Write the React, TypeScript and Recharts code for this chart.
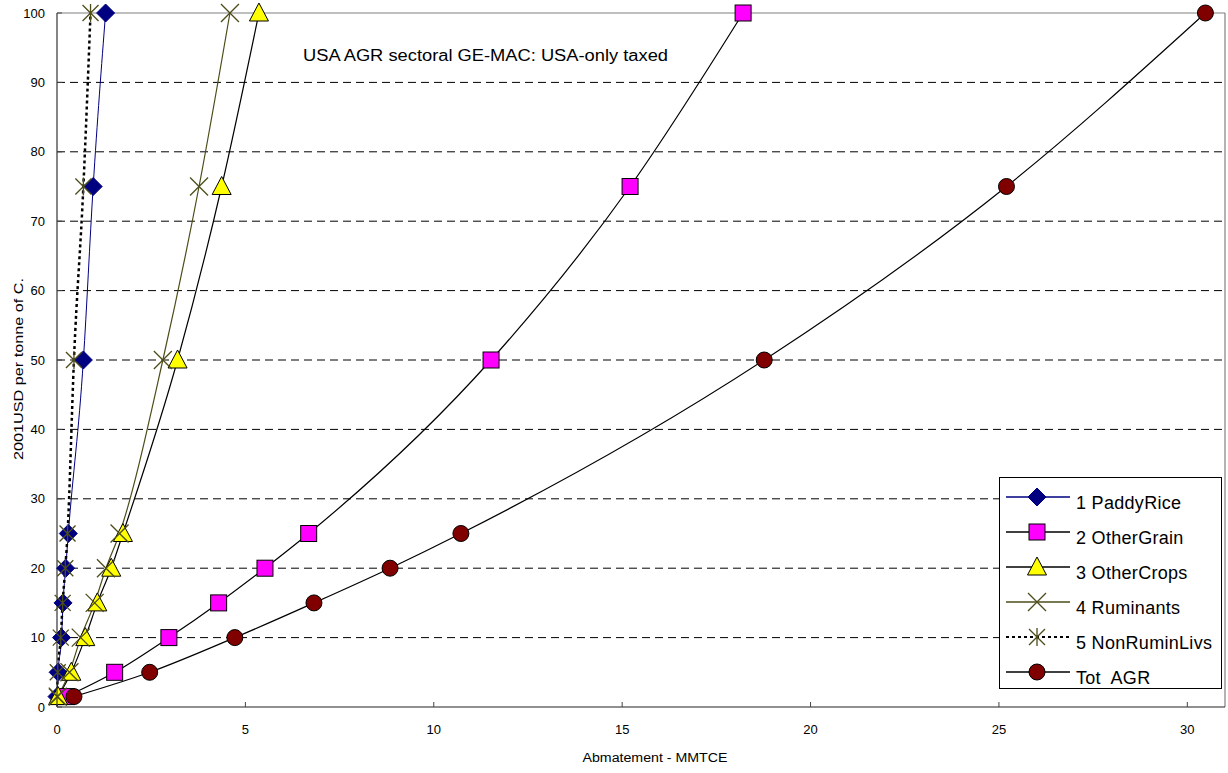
import React from "react";
import {
  LineChart,
  Line,
  XAxis,
  YAxis,
  CartesianGrid,
  ReferenceLine,
} from "recharts";

// carbon tax levels (USD / tC) used for every sector
const taxLevels = [1.5, 5, 10, 15, 20, 25, 50, 75, 100];

// abatement (MMTCE) at each tax level
const paddyRice = [0, 0.03, 0.12, 0.16, 0.23, 0.3, 0.7, 0.96, 1.29];
const otherGrain = [0.25, 1.53, 2.97, 4.29, 5.52, 6.68, 11.52, 15.21, 18.21];
const otherCrops = [0.03, 0.38, 0.75, 1.07, 1.44, 1.75, 3.2, 4.37, 5.36];
const ruminants = [0.02, 0.33, 0.63, 1.0, 1.3, 1.66, 2.81, 3.77, 4.59];
const nonRuminLivs = [0, 0.02, 0.1, 0.15, 0.22, 0.28, 0.45, 0.7, 0.89];
const totAgr = [0.45, 2.46, 4.72, 6.82, 8.84, 10.72, 18.77, 25.2, 30.48];

const xTicks = [0, 5, 10, 15, 20, 25, 30];
const yTicks = [0, 10, 20, 30, 40, 50, 60, 70, 80, 90, 100];
const gridValues = [10, 20, 30, 40, 50, 60, 70, 80, 90];

const FONT = "'Liberation Sans', Arial, sans-serif";
const OLIVE = "#4d4d1a";

type Marker = "diamond" | "square" | "triangle" | "x" | "star" | "circle";

type SeriesDef = {
  name: string;
  xs: number[];
  color: string;
  width: number;
  dash?: string;
  marker: Marker;
};

const series: SeriesDef[] = [
  { name: "1 PaddyRice", xs: paddyRice, color: "#000080", width: 1, marker: "diamond" },
  { name: "2 OtherGrain", xs: otherGrain, color: "#000000", width: 1.2, marker: "square" },
  { name: "3 OtherCrops", xs: otherCrops, color: "#000000", width: 1.2, marker: "triangle" },
  { name: "4 Ruminants", xs: ruminants, color: OLIVE, width: 1.2, marker: "x" },
  { name: "5 NonRuminLivs", xs: nonRuminLivs, color: "#000000", width: 2.5, dash: "3 3", marker: "star" },
  { name: "Tot  AGR", xs: totAgr, color: "#000000", width: 1.2, marker: "circle" },
];

const toRows = (xs: number[]) => xs.map((x, i) => ({ x, y: taxLevels[i] }));

function markerShape(kind: Marker, cx: number, cy: number, key?: string) {
  switch (kind) {
    case "diamond":
      return (
        <path
          key={key}
          d={`M${cx},${cy - 9}L${cx + 9},${cy}L${cx},${cy + 9}L${cx - 9},${cy}Z`}
          fill="#000080"
          stroke="#000080"
        />
      );
    case "square":
      return (
        <rect key={key} x={cx - 8} y={cy - 8} width={16} height={16} fill="#ff00ff" stroke="#000" strokeWidth={1} />
      );
    case "triangle":
      return (
        <path
          key={key}
          d={`M${cx},${cy - 10}L${cx + 9.5},${cy + 8}L${cx - 9.5},${cy + 8}Z`}
          fill="#ffff00"
          stroke="#000"
          strokeWidth={1}
        />
      );
    case "x":
      return (
        <path
          key={key}
          d={`M${cx - 9},${cy - 9}L${cx + 9},${cy + 9}M${cx + 9},${cy - 9}L${cx - 9},${cy + 9}`}
          stroke={OLIVE}
          strokeWidth={1.3}
          fill="none"
        />
      );
    case "star":
      return (
        <path
          key={key}
          d={`M${cx - 8},${cy - 8}L${cx + 8},${cy + 8}M${cx + 8},${cy - 8}L${cx - 8},${cy + 8}M${cx},${cy - 9}L${cx},${cy + 9}`}
          stroke={OLIVE}
          strokeWidth={1.3}
          fill="none"
        />
      );
    case "circle":
      return <circle key={key} cx={cx} cy={cy} r={8} fill="#800000" stroke="#000" strokeWidth={1} />;
  }
}

const dotFor = (kind: Marker) => (props: any) => {
  const { cx, cy, index } = props;
  if (cx == null || cy == null) return <g key={`${kind}-${index}`} />;
  return markerShape(kind, cx, cy, `${kind}-${index}`);
};

function LegendBox() {
  return (
    <div
      style={{
        position: "absolute",
        left: 999,
        top: 477,
        width: 223,
        height: 212,
        border: "1px solid #000",
        background: "#fff",
        boxSizing: "border-box",
      }}
    >
      <svg width={221} height={210}>
        {series.map((s, i) => {
          const y = 19 + i * 35;
          return (
            <g key={s.name}>
              <line
                x1={6}
                x2={70}
                y1={y}
                y2={y}
                stroke={s.color}
                strokeWidth={s.dash ? 2 : 1.4}
                strokeDasharray={s.dash}
              />
              {markerShape(s.marker, 37, y)}
              <text
                x={76}
                y={y + 12}
                fontFamily={FONT}
                fontSize={18}
                letterSpacing={0.3}
                fill="#000"
                style={{ whiteSpace: "pre" }}
              >
                {s.name}
              </text>
            </g>
          );
        })}
      </svg>
    </div>
  );
}

export default function App() {
  return (
    <div style={{ position: "absolute", left: 0, top: 0, width: 1228, height: 773, background: "#fff" }}>
      <LineChart width={1228} height={773} margin={{ top: 13, right: 3, bottom: 0, left: 0 }}>
        <CartesianGrid
          horizontal
          vertical={false}
          horizontalValues={gridValues}
          stroke="#000"
          strokeDasharray="8 5"
        />
        <XAxis
          type="number"
          dataKey="x"
          domain={[0, 31]}
          ticks={xTicks}
          interval={0}
          height={66}
          tickSize={-5}
          tickMargin={23}
          axisLine={{ stroke: "#222", strokeWidth: 1.2 }}
          tickLine={{ stroke: "#444" }}
          tick={{ fill: "#000", fontSize: 13, fontFamily: FONT }}
          allowDuplicatedCategory={false}
          label={() => (
            <text
              x={655}
              y={762}
              textAnchor="middle"
              fontSize={12}
              fontFamily={FONT}
              fill="#000"
              textLength={145}
              lengthAdjust="spacingAndGlyphs"
            >
              Abmatement - MMTCE
            </text>
          )}
        />
        <YAxis
          type="number"
          dataKey="y"
          domain={[0, 100]}
          ticks={yTicks}
          interval={0}
          width={57}
          tickSize={-5}
          tickMargin={17}
          axisLine={{ stroke: "#333", strokeWidth: 1.2 }}
          tickLine={{ stroke: "#444" }}
          tick={{ fill: "#000", fontSize: 13, fontFamily: FONT }}
          label={() => (
            <text
              x={18}
              y={369}
              transform="rotate(-90 18 369)"
              textAnchor="middle"
              dominantBaseline="central"
              fontSize={13}
              fontFamily={FONT}
              fill="#000"
              textLength={182}
              lengthAdjust="spacingAndGlyphs"
            >
              2001USD per tonne of C.
            </text>
          )}
        />
        <ReferenceLine y={100} stroke="#808080" strokeWidth={1.2} />
        <ReferenceLine x={31} stroke="#808080" strokeWidth={1.2} />
        {series.map((s) => (
          <Line
            key={s.name}
            name={s.name}
            data={toRows(s.xs)}
            dataKey="y"
            type="monotone"
            stroke={s.color}
            strokeWidth={s.width}
            strokeDasharray={s.dash}
            dot={dotFor(s.marker)}
            activeDot={false}
            isAnimationActive={false}
          />
        ))}
      </LineChart>
      <svg style={{ position: "absolute", left: 0, top: 0 }} width={1228} height={100} pointerEvents="none">
        <text
          x={303}
          y={61}
          fontFamily={FONT}
          fontSize={16}
          fill="#000"
          textLength={365}
          lengthAdjust="spacingAndGlyphs"
        >
          USA AGR sectoral GE-MAC: USA-only taxed
        </text>
      </svg>
      <LegendBox />
    </div>
  );
}
